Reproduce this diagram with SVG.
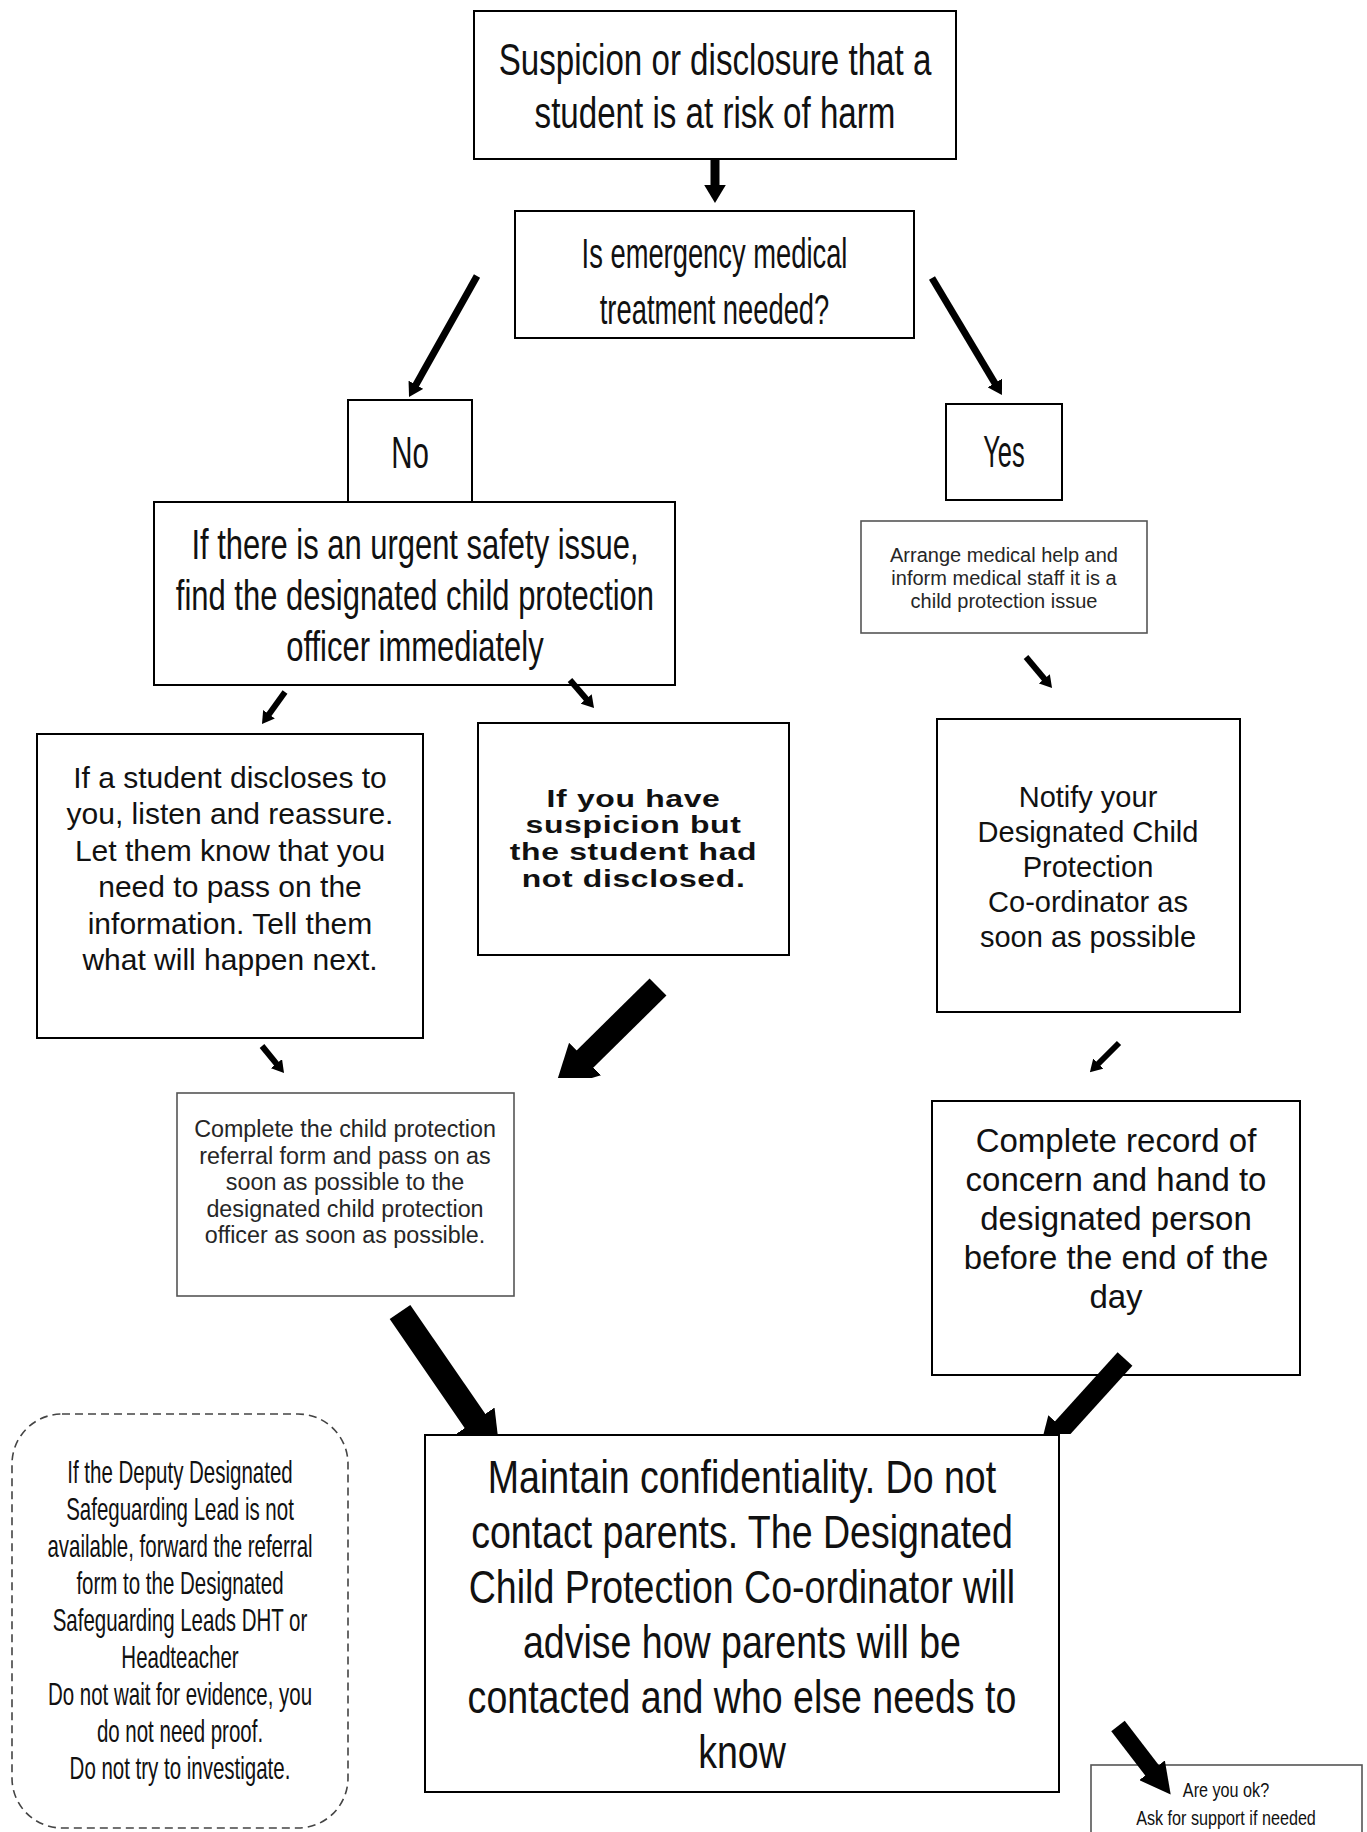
<svg xmlns="http://www.w3.org/2000/svg" width="1367" height="1832" viewBox="0 0 1367 1832">
<style>
text{font-family:"Liberation Sans",Arial,sans-serif;text-anchor:middle;fill:#111}
.bx{fill:#fff;stroke:#000;stroke-width:2}
.gb{fill:#fff;stroke:#555;stroke-width:1.6}
.dash{fill:#fff;stroke:#444;stroke-width:1.6;stroke-dasharray:8 5}
.gt{fill:#262626}
.cn{stroke:#000;fill:none;stroke-linecap:butt}
</style>
<defs>
<marker id="ah" viewBox="0 0 10 10" refX="1" refY="5" markerWidth="2" markerHeight="2.4" markerUnits="strokeWidth" orient="auto" preserveAspectRatio="none"><path d="M0,0 L10,5 L0,10 z" fill="#000"/></marker>
<marker id="ahb" viewBox="0 0 10 10" refX="1" refY="5" markerWidth="1.8" markerHeight="1.9" markerUnits="strokeWidth" orient="auto" preserveAspectRatio="none"><path d="M0,0 L10,5 L0,10 z" fill="#000"/></marker>
<clipPath id="clipA8"><rect x="0" y="0" width="1367" height="1078"/></clipPath>
<clipPath id="clipM"><rect x="0" y="0" width="1367" height="1434"/></clipPath>
</defs>
<rect width="1367" height="1832" fill="#fff"/>

<g id="n1">
<rect class="bx" x="474" y="11" width="482" height="148"/>
<text font-size="44" transform="matrix(0.753 0 0 1 176.6 0)"><tspan x="715" y="75">Suspicion or disclosure that a</tspan><tspan x="715" y="128">student is at risk of harm</tspan></text>
</g>
<g id="n2">
<rect class="bx" x="515" y="211" width="399" height="127"/>
<text font-size="43" transform="matrix(0.636 0 0 1 260.1 0)"><tspan x="714.5" y="268">Is emergency medical</tspan><tspan x="714.5" y="324">treatment needed?</tspan></text>
</g>
<g id="nNo">
<rect class="bx" x="348" y="400" width="124" height="102"/>
<text font-size="45" transform="matrix(0.655 0 0 1 141.5 0)" x="410" y="468">No</text>
</g>
<g id="nUrgent">
<rect class="bx" x="154" y="502" width="521" height="183"/>
<text font-size="42" transform="matrix(0.737 0 0 1 109.1 0)"><tspan x="415" y="559">If there is an urgent safety issue,</tspan><tspan x="415" y="610">find the designated child protection</tspan><tspan x="415" y="661">officer immediately</tspan></text>
</g>
<g id="nYes">
<rect class="bx" x="946" y="404" width="116" height="96"/>
<text font-size="45" transform="matrix(0.567 0 0 1 434.7 0)" x="1004" y="467">Yes</text>
</g>
<g id="nArrange">
<rect class="gb" x="861" y="521" width="286" height="112"/>
<text class="gt" font-size="20"><tspan x="1004" y="562">Arrange medical help and</tspan><tspan x="1004" y="585">inform medical staff it is a</tspan><tspan x="1004" y="608">child protection issue</tspan></text>
</g>
<g id="nDisclose">
<rect class="bx" x="37" y="734" width="386" height="304"/>
<text font-size="30"><tspan x="230" y="788">If a student discloses to</tspan><tspan x="230" y="824.4">you, listen and reassure.</tspan><tspan x="230" y="860.8">Let them know that you</tspan><tspan x="230" y="897.2">need to pass on the</tspan><tspan x="230" y="933.6">information. Tell them</tspan><tspan x="230" y="970">what will happen next.</tspan></text>
</g>
<g id="nSuspicion">
<rect class="bx" x="478" y="723" width="311" height="232"/>
<text font-size="24" font-weight="bold" letter-spacing="0.5" fill="#555" transform="matrix(1.33 0 0 1 -209 0)"><tspan x="633.5" y="807">If you have</tspan><tspan x="633.5" y="833">suspicion but</tspan><tspan x="633.5" y="860">the student had</tspan><tspan x="633.5" y="887">not disclosed.</tspan></text>
</g>
<g id="nNotify">
<rect class="bx" x="937" y="719" width="303" height="293"/>
<text font-size="29"><tspan x="1088" y="807">Notify your</tspan><tspan x="1088" y="842">Designated Child</tspan><tspan x="1088" y="877">Protection</tspan><tspan x="1088" y="912">Co-ordinator as</tspan><tspan x="1088" y="947">soon as possible</tspan></text>
</g>
<g id="nReferral">
<rect class="gb" x="177" y="1093" width="337" height="203"/>
<text class="gt" font-size="23.3"><tspan x="345" y="1137">Complete the child protection</tspan><tspan x="345" y="1163.5">referral form and pass on as</tspan><tspan x="345" y="1190">soon as possible to the</tspan><tspan x="345" y="1216.5">designated child protection</tspan><tspan x="345" y="1243">officer as soon as possible.</tspan></text>
</g>
<g id="nRecord">
<rect class="bx" x="932" y="1101" width="368" height="274"/>
<text font-size="33"><tspan x="1116" y="1152">Complete record of</tspan><tspan x="1116" y="1190.9">concern and hand to</tspan><tspan x="1116" y="1229.8">designated person</tspan><tspan x="1116" y="1268.7">before the end of the</tspan><tspan x="1116" y="1307.6">day</tspan></text>
</g>
<g id="nNote">
<rect class="dash" x="12" y="1414" width="336" height="414" rx="50" ry="50"/>
<text font-size="32" fill="#222" transform="matrix(0.64 0 0 1 64.8 0)"><tspan x="180" y="1483">If the Deputy Designated</tspan><tspan x="180" y="1520">Safeguarding Lead is not</tspan><tspan x="180" y="1557">available, forward the referral</tspan><tspan x="180" y="1594">form to the Designated</tspan><tspan x="180" y="1631">Safeguarding Leads DHT or</tspan><tspan x="180" y="1668">Headteacher</tspan><tspan x="180" y="1705">Do not wait for evidence, you</tspan><tspan x="180" y="1742">do not need proof.</tspan><tspan x="180" y="1779">Do not try to investigate.</tspan></text>
</g>
<g id="nMaintain">
<rect class="bx" x="425" y="1435" width="634" height="357"/>
<text font-size="46" transform="matrix(0.816 0 0 1 136.5 0)"><tspan x="742" y="1493">Maintain confidentiality. Do not</tspan><tspan x="742" y="1548">contact parents. The Designated</tspan><tspan x="742" y="1603">Child Protection Co-ordinator will</tspan><tspan x="742" y="1658">advise how parents will be</tspan><tspan x="742" y="1713">contacted and who else needs to</tspan><tspan x="742" y="1768">know</tspan></text>
</g>
<g id="nOk">
<rect class="gb" x="1091" y="1765" width="271" height="100"/>
<text font-size="21" transform="matrix(0.77 0 0 1 282 0)"><tspan x="1226" y="1797">Are you ok?</tspan><tspan x="1226" y="1825">Ask for support if needed</tspan></text>
</g>

<g id="connectors">
<line class="cn" x1="715" y1="160" x2="715" y2="186.8" stroke-width="9" marker-end="url(#ah)"/>
<line class="cn" x1="477" y1="276" x2="415.2" y2="386" stroke-width="7" marker-end="url(#ah)"/>
<line class="cn" x1="932" y1="278" x2="995.5" y2="384.2" stroke-width="7" marker-end="url(#ah)"/>
<line class="cn" x1="285" y1="692" x2="268.3" y2="715.2" stroke-width="6" marker-end="url(#ah)"/>
<line class="cn" x1="570" y1="680" x2="587" y2="699.8" stroke-width="6" marker-end="url(#ah)"/>
<line class="cn" x1="1026" y1="657" x2="1045.1" y2="679.7" stroke-width="6" marker-end="url(#ah)"/>
<line class="cn" x1="262" y1="1046" x2="277.2" y2="1064.6" stroke-width="6" marker-end="url(#ah)"/>
<line class="cn" x1="1119" y1="1043" x2="1097.5" y2="1064.5" stroke-width="6" marker-end="url(#ah)"/>
<g clip-path="url(#clipA8)"><line class="cn" x1="658" y1="987" x2="582" y2="1062" stroke-width="24" marker-end="url(#ahb)"/></g>
<g clip-path="url(#clipM)">
<line class="cn" x1="400" y1="1312" x2="477.5" y2="1424.7" stroke-width="25" marker-end="url(#ahb)"/>
<line class="cn" x1="1125" y1="1359" x2="1060" y2="1430.7" stroke-width="20" marker-end="url(#ahb)"/>
</g>
<line class="cn" x1="1118" y1="1726" x2="1153.9" y2="1772.7" stroke-width="17" marker-end="url(#ahb)"/>
</g>
</svg>
